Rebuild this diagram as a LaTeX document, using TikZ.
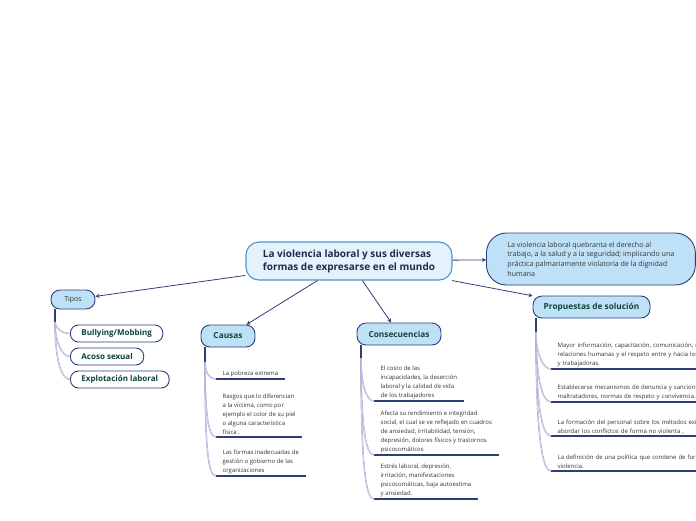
\documentclass[tikz,border=0pt]{standalone}
\usepackage{fontspec}
\setmainfont{Open Sans}
\usepackage{tikz}
\usetikzlibrary{arrows.meta}
\definecolor{hubfill}{HTML}{E4F2FC}
\definecolor{hubline}{HTML}{4B95D6}
\definecolor{hubtext}{HTML}{1C2B4F}
\definecolor{topicfill}{HTML}{BFE1F8}
\definecolor{navy}{HTML}{2F3E78}
\definecolor{leafgreen}{HTML}{0D4536}
\definecolor{notetext}{HTML}{333333}
\definecolor{twigline}{HTML}{9EA3CF}
\definecolor{twigfill}{HTML}{E4E6F3}
\tikzset{
hub/.style = {draw=hubline, fill=hubfill, line width=1.1pt, rounded corners=13pt,
              minimum width=206pt, minimum height=38pt, align=left, text=hubtext,
              font=\bfseries\fontsize{10}{13}\selectfont},
memo/.style = {draw=navy, fill=topicfill, line width=0.9pt, rounded corners=20pt,
               anchor=west, inner xsep=21pt, minimum height=52pt,
               align=left, text=notetext, font=\fontsize{7.1}{9.6}\selectfont},
topic/.style = {draw=navy, fill=topicfill, line width=0.9pt, rounded corners=9pt,
                minimum height=22pt, inner xsep=0pt, text=leafgreen,
                font=\bfseries\fontsize{8.3}{10}\selectfont},
sub/.style = {draw=navy, fill=white, line width=0.9pt, rounded corners=8pt, anchor=west,
              minimum height=17pt, inner xsep=11pt, text=leafgreen,
              font=\bfseries\fontsize{8}{10}\selectfont},
leaf/.style = {anchor=south west, align=left, inner xsep=6.5pt, inner ysep=2pt,
               text=notetext, font=\fontsize{6}{9}\selectfont},
link/.style = {draw=navy, line width=0.8pt, -{Stealth[length=4pt,width=4pt]}},
stem/.style = {draw=navy, line width=1.2pt},
twig/.style = {draw=twigline, line width=0.45pt, double=twigfill, double distance=0.5pt},
rule/.style = {draw=navy, line width=1.2pt}
}
\newcommand{\leaf}[4][]{\node[leaf,#1] (#2) at (#3) {#4};}
\newcommand{\stem}[2]{\coordinate (#1-s) at (#2); \draw[stem] (#1-s |- #1.south) -- (#1-s);}
\newcommand{\twig}[3]{\draw[twig] (#1-s) .. controls +(0,#3) and +(-8,0) .. (#2);}

\begin{document}
\begin{tikzpicture}[x=1pt,y=-1pt]
\useasboundingbox (0,0) rectangle (696,520);
\clip (0,0) rectangle (696,520);
% central idea and main topics
\node[hub] (hub) at (349,261) {La violencia laboral y sus diversas\\formas de expresarse en el mundo};
\node[memo] (memo) at (486,259) {La violencia laboral quebranta el derecho al\\trabajo, a la salud y a la seguridad; implicando una\\práctica palmariamente violatoria de la dignidad\\humana};
\node[topic, minimum width=44pt, minimum height=19pt, text=notetext,
      font=\fontsize{7}{9}\selectfont] (tipos) at (73,299.5) {Tipos};
\node[topic, minimum width=54pt] (causas) at (228,336) {Causas};
\node[topic, minimum width=84pt] (consec) at (399,334) {Consecuencias};
\node[topic, minimum width=117pt] (propuestas) at (591.5,307) {Propuestas de solución};
\foreach \n in {memo,tipos,causas,consec,propuestas}
  \draw[link] (hub) -- (\n);

% tipos
\node[sub] (bully) at (70,333.5) {Bullying/Mobbing};
\node[sub] (acoso) at (70,356.5) {Acoso sexual};
\node[sub] (explot) at (70,379.5) {Explotación laboral};

% causas
\leaf{pobreza}{216,379}{La pobreza extrema};
\leaf{rasgos}{216,437}{Rasgos que lo diferencian\\a la víctima, como por\\ejemplo el color de su piel\\o alguna característica\\física .};
\leaf{formas}{216,476}{Las formas inadecuadas de\\gestión o gobierno de las\\organizaciones};

% consecuencias
\leaf{costo}{374,401}{El costo de las\\incapacidades, la deserción\\laboral y la calidad de vida\\de los trabajadores};
\leaf{afecta}{374,455}{Afecta su rendimiento e integridad\\social, el cual se ve reflejado en cuadros\\de ansiedad, irritabilidad, tensión,\\depresión, dolores físicos y trastornos\\psicosomáticos};
\leaf{estres}{374,499}{Estrés laboral, depresión,\\irritación, manifestaciones\\psicosomáticas, baja autoestima\\y ansiedad.};

% propuestas de solucion
\leaf[text width=150pt]{mayor}{551,369}{Mayor información, capacitación, comunicación, m\\relaciones humanas y el respeto entre y hacia los\\y trabajadoras.};
\leaf[text width=150pt]{establecer}{551,402}{Establecerse mecanismos de denuncia y sancione\\maltratadores, normas de respeto y convivencia.};
\leaf[text width=150pt]{formacion}{551,436}{La formación del personal sobre los métodos exist\\abordar los conflictos de forma no violenta ,};
\leaf[text width=150pt]{definicion}{551,471}{La definición de una política que condene de forma\\violencia.};

\foreach \n in {pobreza,rasgos,formas,costo,afecta,estres,mayor,establecer,formacion,definicion}
  \draw[rule] (\n.south west) -- (\n.south east);

% stems and twigs
\stem{tipos}{55,322};
\twig{tipos}{bully.west}{6};
\twig{tipos}{acoso.west}{20};
\twig{tipos}{explot.west}{40};
\stem{causas}{205,362};
\twig{causas}{pobreza.south west}{8};
\twig{causas}{rasgos.south west}{50};
\twig{causas}{formas.south west}{85};
\stem{consec}{361,358};
\twig{consec}{costo.south west}{25};
\twig{consec}{afecta.south west}{70};
\twig{consec}{estres.south west}{110};
\stem{propuestas}{536,332};
\twig{propuestas}{mayor.south west}{22};
\twig{propuestas}{establecer.south west}{50};
\twig{propuestas}{formacion.south west}{80};
\twig{propuestas}{definicion.south west}{110};
\end{tikzpicture}
\end{document}
